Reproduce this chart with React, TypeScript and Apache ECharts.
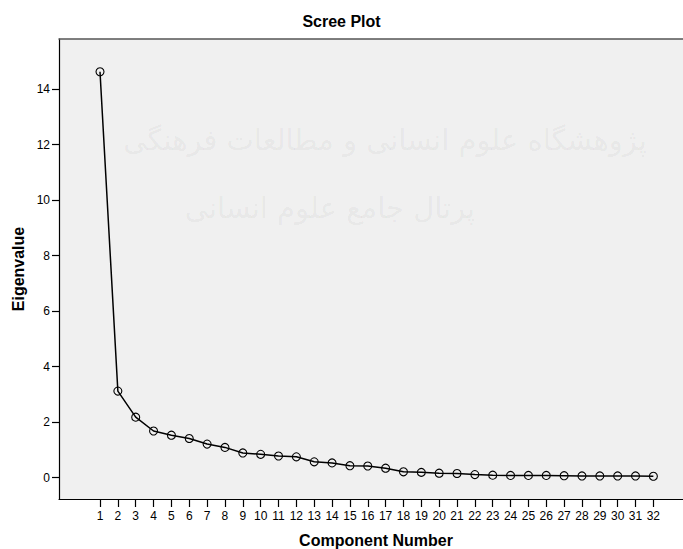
import React, { useEffect, useRef } from "react";
import * as echarts from "echarts";

const components = [1, 2, 3, 4, 5, 6, 7, 8, 9, 10, 11, 12, 13, 14, 15, 16, 17, 18, 19, 20, 21, 22, 23, 24, 25, 26, 27, 28, 29, 30, 31, 32];
const eigenvalues = [14.63, 3.12, 2.18, 1.68, 1.53, 1.41, 1.21, 1.09, 0.89, 0.84, 0.78, 0.75, 0.57, 0.53, 0.43, 0.42, 0.34, 0.21, 0.19, 0.16, 0.15, 0.11, 0.09, 0.08, 0.08, 0.08, 0.07, 0.06, 0.06, 0.06, 0.06, 0.05];
const yTicks = [0, 2, 4, 6, 8, 10, 12, 14];

const chartTitle = "Scree Plot";
const xTitle = "Component Number";
const yTitle = "Eigenvalue";
const watermark1 = "پژوهشگاه علوم انسانی و مطالعات فرهنگی";
const watermark2 = "پرتال جامع علوم انسانی";

export default function App() {
  const ref = useRef<HTMLDivElement>(null);
  useEffect(() => {
    if (!ref.current) return;
    const chart = echarts.init(ref.current, undefined, { renderer: "svg" });
    const font = "Liberation Sans, Arial, sans-serif";
    chart.setOption({
      animation: false,
      backgroundColor: "#ffffff",
      title: {
        text: chartTitle,
        left: "center",
        top: 8,
        textStyle: { fontFamily: font, fontSize: 16, fontWeight: "bold", color: "#000" },
      },
      grid: {
        left: 59,
        top: 39,
        right: 0,
        bottom: 50,
        show: true,
        backgroundColor: "#f0f0f0",
        borderWidth: 0,
      },
      graphic: [
        {
          type: "text",
          z: 0,
          silent: true,
          x: 385,
          y: 140,
          style: {
            text: watermark1,
            font: "29px 'DejaVu Sans', sans-serif",
            fill: "rgba(0,0,0,0.05)",
            textAlign: "center",
            textVerticalAlign: "middle",
          },
        },
        {
          type: "text",
          z: 0,
          silent: true,
          x: 330,
          y: 208,
          style: {
            text: watermark2,
            font: "29px 'DejaVu Sans', sans-serif",
            fill: "rgba(0,0,0,0.05)",
            textAlign: "center",
            textVerticalAlign: "middle",
          },
        },
        {
          type: "text",
          x: 18.5,
          y: 269,
          rotation: Math.PI / 2,
          style: {
            text: yTitle,
            font: `bold 16px ${font}`,
            fill: "#000",
            textAlign: "center",
            textVerticalAlign: "middle",
          },
        },
        {
          type: "text",
          x: 376,
          y: 540,
          style: {
            text: xTitle,
            font: `bold 16px ${font}`,
            fill: "#000",
            textAlign: "center",
            textVerticalAlign: "middle",
          },
        },
      ],
      xAxis: [
        {
          type: "value",
          min: -1.297,
          max: 33.66,
          position: "bottom",
          splitLine: { show: false },
          axisLine: { show: true, onZero: false, lineStyle: { color: "#000", width: 1.2 } },
          axisTick: {
            show: true,
            length: 8,
            inside: false,
            customValues: components,
            lineStyle: { color: "#000", width: 1.2 },
          },
          axisLabel: {
            show: true,
            margin: 11,
            customValues: components,
            fontFamily: font,
            fontSize: 12,
            color: "#000",
          },
        },
        {
          type: "value",
          min: -1.297,
          max: 33.66,
          position: "top",
          splitLine: { show: false },
          axisLine: { show: true, onZero: false, lineStyle: { color: "#555", width: 1.5 } },
          axisTick: { show: false },
          axisLabel: { show: false },
        },
      ],
      yAxis: {
        type: "value",
        min: -0.77,
        max: 15.81,
        splitLine: { show: false },
        axisLine: { show: true, onZero: false, lineStyle: { color: "#000", width: 1.2 } },
        axisTick: {
          show: true,
          length: 7,
          customValues: yTicks,
          lineStyle: { color: "#000", width: 1.2 },
        },
        axisLabel: {
          show: true,
          margin: 9,
          customValues: yTicks,
          fontFamily: font,
          fontSize: 12,
          color: "#000",
        },
      },
      series: [
        {
          type: "line",
          xAxisIndex: 0,
          data: components.map((c, i) => [c, eigenvalues[i]]),
          symbol: "circle",
          symbolSize: 8,
          showAllSymbol: true,
          lineStyle: { color: "#000", width: 1.5 },
          itemStyle: { color: "rgba(0,0,0,0)", borderColor: "#000", borderWidth: 1.1 },
          emphasis: { disabled: true },
          z: 3,
        },
      ],
    });
    return () => chart.dispose();
  }, []);
  return (
    <div
      ref={ref}
      style={{ position: "absolute", left: 0, top: 0, width: 683, height: 549 }}
    />
  );
}
